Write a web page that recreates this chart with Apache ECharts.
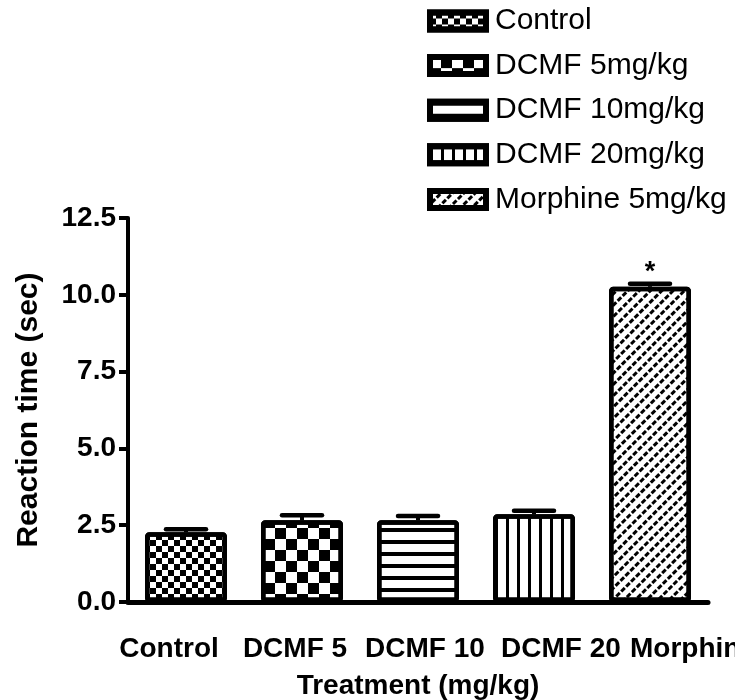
<!DOCTYPE html>
<html>
<head>
<meta charset="utf-8">
<script src="https://cdn.jsdelivr.net/npm/echarts@6/dist/echarts.min.js"></script>
<style>html,body{margin:0;padding:0;background:#fff}#c{width:735px;height:700px}</style>
</head>
<body>
<div id="c"></div>
<script>
// ---- data ----
var categories = ['Control', 'DCMF 5', 'DCMF 10', 'DCMF 20', 'Morphine'];
var legendNames = ['Control', 'DCMF 5mg/kg', 'DCMF 10mg/kg', 'DCMF 20mg/kg', 'Morphine 5mg/kg'];
var means = [2.27, 2.66, 2.66, 2.86, 10.26];
var errors = [0.1, 0.16, 0.14, 0.11, 0.1];
var significance = ['', '', '', '', '*'];
var yTicks = [0, 2.5, 5, 7.5, 10, 12.5];

// ---- styles ----
var FONT = 'Liberation Sans, Arial, sans-serif';
var labelShift = [-17, -7, 7, 27, 43];
var decals = [
  { symbol: 'rect', symbolSize: 1, color: '#000', dashArrayX: [[5.5, 5.5], [0, 5.5, 5.5, 0]], dashArrayY: [5.5, 0] },
  { symbol: 'rect', symbolSize: 1, color: '#000', dashArrayX: [[11, 11], [0, 11, 11, 0]], dashArrayY: [11, 0] },
  { symbol: 'rect', symbolSize: 1, color: '#000', dashArrayX: [10, 0], dashArrayY: [3.5, 7.5] },
  { symbol: 'rect', symbolSize: 1, color: '#000', dashArrayX: [3, 8], dashArrayY: [10, 0] },
  { symbol: 'rect', symbolSize: 1, color: '#000', dashArrayX: [5, 2], dashArrayY: [2.2, 4.6], rotation: -Math.PI / 4 }
];

var rich = {};
labelShift.forEach(function (s, i) {
  rich['l' + i] = {
    fontSize: 28, fontWeight: 'bold', fontFamily: FONT, color: '#000',
    padding: s >= 0 ? [0, 0, 0, 2 * s] : [0, -2 * s, 0, 0]
  };
});

var series = categories.map(function (c, i) {
  return {
    name: legendNames[i],
    type: 'bar',
    stack: 'all',
    barWidth: 82,
    data: categories.map(function (cc, j) { return j === i ? means[i] : '-'; }),
    itemStyle: { color: '#fff', borderColor: '#000', borderWidth: 4.5, borderRadius: 2, decal: decals[i] },
    emphasis: { disabled: true },
    animation: false
  };
});

series.push({
  type: 'custom',
  name: 'err',
  data: categories.map(function (c, i) { return [i, means[i], errors[i], significance[i]]; }),
  renderItem: function (params, api) {
    var x = api.value(0), m = api.value(1), e = api.value(2);
    var p0 = api.coord([x, m]);
    var p1 = api.coord([x, m + e]);
    var half = 20;
    var children = [
      { type: 'line', shape: { x1: p0[0], y1: p0[1], x2: p1[0], y2: p1[1] }, style: { stroke: '#000', lineWidth: 4 } },
      { type: 'line', shape: { x1: p1[0] - half, y1: p1[1], x2: p1[0] + half, y2: p1[1] }, style: { stroke: '#000', lineWidth: 4.5, lineCap: 'round' } }
    ];
    var sig = significance[params.dataIndex];
    if (sig) {
      children.push({ type: 'text', style: { text: sig, x: p1[0], y: p1[1] + 2, align: 'center', verticalAlign: 'bottom', fontSize: 27, fontWeight: 'bold', fontFamily: FONT, fill: '#000' } });
    }
    return { type: 'group', children: children };
  },
  z: 5,
  silent: true,
  animation: false
});

var chart = echarts.init(document.getElementById('c'));
chart.setOption({
  animation: false,
  backgroundColor: '#fff',
  grid: { left: 128, right: 27, top: 218, bottom: 98, containLabel: false, outerBoundsMode: 'none' },
  legend: {
    orient: 'vertical',
    left: 422,
    top: 1,
    data: legendNames,
    icon: 'rect',
    itemWidth: 56,
    itemHeight: 17,
    itemGap: 14.6,
    selectedMode: false,
    itemStyle: { borderWidth: 6 },
    textStyle: { fontSize: 30, lineHeight: 30, fontFamily: FONT, color: '#000', padding: [0, 0, 0, 4] }
  },
  xAxis: {
    type: 'category',
    data: categories,
    name: 'Treatment (mg/kg)',
    nameLocation: 'middle',
    nameGap: 70,
    nameTextStyle: { fontSize: 28, fontWeight: 'bold', fontFamily: FONT, color: '#000' },
    axisLine: { lineStyle: { color: '#000', width: 5 } },
    axisTick: { show: false },
    axisLabel: {
      interval: 0,
      margin: 33,
      formatter: function (v, i) { return '{l' + i + '|' + v + '}'; },
      rich: rich
    }
  },
  yAxis: {
    type: 'value',
    min: yTicks[0],
    max: yTicks[yTicks.length - 1],
    interval: yTicks[1] - yTicks[0],
    name: 'Reaction time (sec)',
    nameLocation: 'middle',
    nameGap: 84,
    nameTextStyle: { fontSize: 30, fontWeight: 'bold', fontFamily: FONT, color: '#000' },
    axisLine: { show: true, lineStyle: { color: '#000', width: 4 } },
    axisTick: { show: true, length: 9, lineStyle: { color: '#000', width: 4 } },
    splitLine: { show: false },
    axisLabel: {
      margin: 12,
      fontSize: 28,
      fontWeight: 'bold',
      fontFamily: FONT,
      color: '#000',
      formatter: function (v) { return v.toFixed(1); }
    }
  },
  series: series
});
</script>
</body>
</html>
